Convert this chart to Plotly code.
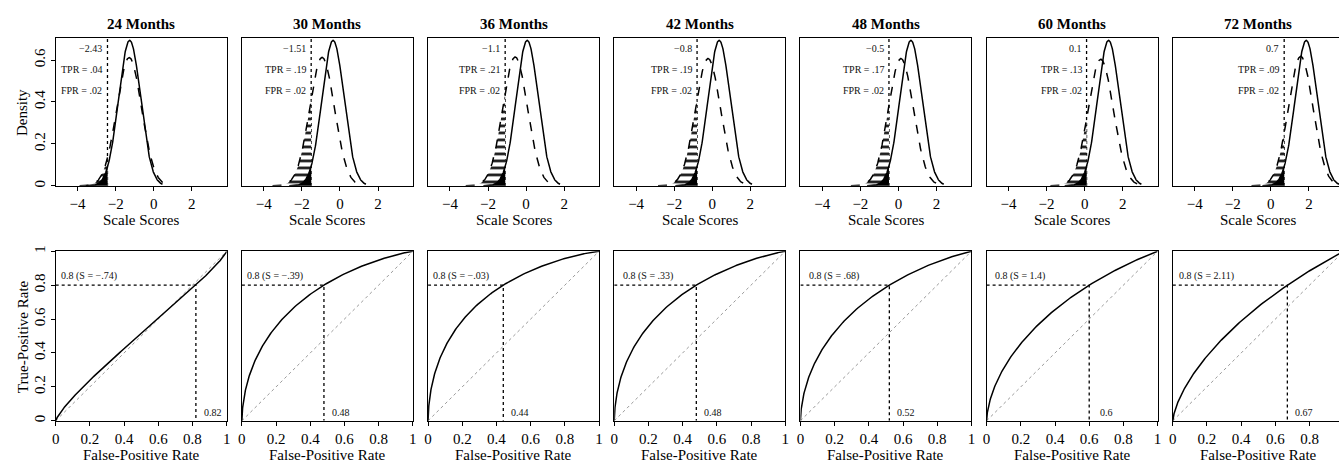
import math
import numpy as np
import plotly.graph_objects as go

# ---------------- data ----------------
months = ["24 Months", "30 Months", "36 Months", "42 Months", "48 Months", "60 Months", "72 Months"]
cutoffs = [-2.43, -1.51, -1.1, -0.8, -0.5, 0.1, 0.7]
cutoff_labels = ["−2.43", "−1.51", "−1.1", "−0.8", "−0.5", "0.1", "0.7"]
tpr_labels = [".04", ".19", ".21", ".19", ".17", ".13", ".09"]
fpr_labels = [".02", ".02", ".02", ".02", ".02", ".02", ".02"]
s80_labels = ["−.74", "−.39", "−.03", ".33", ".68", "1.4", "2.11"]
fpr80 = [0.82, 0.48, 0.44, 0.48, 0.52, 0.6, 0.67]
fpr80_labels = ["0.82", "0.48", "0.44", "0.48", "0.52", "0.6", "0.67"]
# normal distributions (solid / dashed curves)
solid_mean = [-1.266, -0.361, 0.057, 0.359, 0.651, 1.254, 1.857]
solid_sd = [0.575, 0.575, 0.575, 0.575, 0.575, 0.575, 0.575]
dashed_mean = [-1.289, -0.938, -0.576, -0.223, 0.127, 0.844, 1.567]
dashed_sd = [0.652, 0.651, 0.649, 0.657, 0.657, 0.661, 0.646]
density_ticks = [0, 0.2, 0.4, 0.6]
density_ticktext = ["0", "0.2", "0.4", "0.6"]
score_ticks = [-4, -2, 0, 2]
score_ticktext = ["−4", "−2", "0", "2"]
rate_ticks = [0, 0.2, 0.4, 0.6, 0.8, 1]
rate_ticktext = ["0", "0.2", "0.4", "0.6", "0.8", "1"]

# ---------------- helpers ----------------
def npdf(x, m, s):
    return np.exp(-0.5 * ((x - m) / s) ** 2) / (s * math.sqrt(2 * math.pi))

_erf = np.vectorize(math.erf)
def ncdf(x, m, s):
    return 0.5 * (1 + _erf((x - m) / (s * math.sqrt(2))))

W, H = 1343, 468
FONT = "Liberation Serif"
PX0, PW, STEP = 52, 172, 187.3
TOP_T, TOP_B = 33, 183
BOT_T, BOT_B = 249.5, 422
XR_TOP = [-5.15, 3.83]
YR_TOP = [0, 0.703]

fig = go.Figure()
layout = dict(width=W, height=H, margin=dict(l=0, r=0, t=0, b=0),
              paper_bgcolor="white", plot_bgcolor="white", showlegend=False,
              font=dict(family=FONT, size=15, color="black"))
annotations = []

def axis_common():
    return dict(showgrid=False, zeroline=False, showline=True, linecolor="black",
                linewidth=1, ticks="outside", ticklen=4, tickcolor="black",
                tickfont=dict(family=FONT, size=15, color="black"))

for i in range(7):
    left = PX0 + STEP * i
    right = left + PW
    d0 = left / W
    d1 = min(right / W, 1.0)
    frac = (min(right, W) - left) / PW
    last = i == 6

    kt = i + 1
    kb = i + 8
    # --- top axes ---
    xt = axis_common()
    xt.update(domain=[d0, d1], anchor="y%d" % kt, mirror=True,
              range=[XR_TOP[0], XR_TOP[0] + (XR_TOP[1] - XR_TOP[0]) * frac],
              tickvals=score_ticks, ticktext=score_ticktext)
    yt = axis_common()
    yt.update(domain=[1 - TOP_B / H, 1 - TOP_T / H], anchor="x%d" % kt,
              mirror=not last, range=YR_TOP)
    if i == 0:
        yt.update(tickvals=density_ticks, ticktext=density_ticktext, tickangle=-90)
    else:
        yt.update(showticklabels=False, ticks="")
    layout["xaxis%d" % kt if kt > 1 else "xaxis"] = xt
    layout["yaxis%d" % kt if kt > 1 else "yaxis"] = yt

    # --- bottom axes ---
    xb = axis_common()
    xb.update(domain=[d0, d1], anchor="y%d" % kb, mirror=True,
              range=[0, frac], tickvals=rate_ticks, ticktext=rate_ticktext)
    yb = axis_common()
    yb.update(domain=[1 - BOT_B / H, 1 - BOT_T / H], anchor="x%d" % kb,
              mirror=not last, range=[0, 1])
    if i == 0:
        yb.update(tickvals=rate_ticks, ticktext=rate_ticktext, tickangle=-90)
    else:
        yb.update(showticklabels=False, ticks="")
    layout["xaxis%d" % kb] = xb
    layout["yaxis%d" % kb] = yb

    xa_t = "x" if kt == 1 else "x%d" % kt
    ya_t = "y" if kt == 1 else "y%d" % kt
    xa_b, ya_b = "x%d" % kb, "y%d" % kb

    ms, ss = solid_mean[i], solid_sd[i]
    md, sd = dashed_mean[i], dashed_sd[i]
    c = cutoffs[i]

    # cutoff line
    fig.add_trace(go.Scatter(x=[c, c], y=[0, YR_TOP[1]], mode="lines",
                             line=dict(color="black", width=1.3, dash="dot"),
                             xaxis=xa_t, yaxis=ya_t, hoverinfo="skip"))
    # hatched area under dashed curve left of cutoff
    xh = np.linspace(md - 4 * sd, c, 200)
    fig.add_trace(go.Scatter(x=xh, y=npdf(xh, md, sd), mode="lines", line=dict(width=0, color="black"),
                             fill="tozeroy", fillcolor="white",
                             fillpattern=dict(shape="-", fgcolor="black", bgcolor="white",
                                              fgopacity=1, size=7, solidity=0.35),
                             xaxis=xa_t, yaxis=ya_t, hoverinfo="skip"))
    # black area under solid curve left of cutoff
    xs_ = np.linspace(ms - 4 * ss, c, 200)
    fig.add_trace(go.Scatter(x=xs_, y=npdf(xs_, ms, ss), mode="lines", line=dict(width=0, color="black"),
                             fill="tozeroy", fillcolor="black",
                             xaxis=xa_t, yaxis=ya_t, hoverinfo="skip"))
    # curves
    xd = np.linspace(md - 4 * sd, md + 3 * sd, 300)
    fig.add_trace(go.Scatter(x=xd, y=npdf(xd, md, sd), mode="lines",
                             line=dict(color="black", width=1.5, dash="dash"),
                             xaxis=xa_t, yaxis=ya_t, hoverinfo="skip"))
    xsol = np.linspace(ms - 4 * ss, ms + 3 * ss, 300)
    fig.add_trace(go.Scatter(x=xsol, y=npdf(xsol, ms, ss), mode="lines",
                             line=dict(color="black", width=1.5),
                             xaxis=xa_t, yaxis=ya_t, hoverinfo="skip"))

    for txt, yy in [(cutoff_labels[i], 0.656), ("TPR = " + tpr_labels[i], 0.553),
                    ("FPR = " + fpr_labels[i], 0.455)]:
        annotations.append(dict(x=c, y=yy, xref=xa_t, yref=ya_t, text=txt, showarrow=False,
                                xanchor="right", yanchor="middle", xshift=-3,
                                font=dict(family=FONT, size=10, color="#111")))

    # --- ROC ---
    t = np.linspace(-8, 8, 1200)
    fpr = ncdf(t, ms, ss)
    tpr = ncdf(t, md, sd)
    fig.add_trace(go.Scatter(x=[0, 1], y=[0, 1], mode="lines",
                             line=dict(color="#9a9a9a", width=1, dash="dot"),
                             xaxis=xa_b, yaxis=ya_b, hoverinfo="skip"))
    fig.add_trace(go.Scatter(x=[0, fpr80[i], fpr80[i]], y=[0.8, 0.8, 0], mode="lines",
                             line=dict(color="black", width=1.3, dash="dot"),
                             xaxis=xa_b, yaxis=ya_b, hoverinfo="skip"))
    fig.add_trace(go.Scatter(x=fpr, y=tpr, mode="lines",
                             line=dict(color="black", width=1.5),
                             xaxis=xa_b, yaxis=ya_b, hoverinfo="skip"))
    annotations.append(dict(x=0.195, y=0.852, xref=xa_b, yref=ya_b,
                            text="0.8 (S = " + s80_labels[i] + ")", showarrow=False,
                            xanchor="center", yanchor="middle",
                            font=dict(family=FONT, size=10, color="#111")))
    annotations.append(dict(x=fpr80[i] + 0.1, y=0.048, xref=xa_b, yref=ya_b,
                            text=fpr80_labels[i], showarrow=False,
                            xanchor="center", yanchor="middle",
                            font=dict(family=FONT, size=10, color="#111")))

    # titles and axis labels
    cx = (left + right) / 2 / W
    annotations.append(dict(x=cx, y=1 - 18 / H, xref="paper", yref="paper",
                            text="<b>" + months[i] + "</b>", showarrow=False,
                            xanchor="center", yanchor="middle",
                            font=dict(family=FONT, size=15, color="black")))
    annotations.append(dict(x=cx, y=1 - 218 / H, xref="paper", yref="paper",
                            text="Scale Scores", showarrow=False,
                            xanchor="center", yanchor="middle",
                            font=dict(family=FONT, size=15, color="black")))
    annotations.append(dict(x=cx, y=1 - 457 / H, xref="paper", yref="paper",
                            text="False-Positive Rate", showarrow=False,
                            xanchor="center", yanchor="middle",
                            font=dict(family=FONT, size=15, color="black")))

annotations.append(dict(x=18 / W, y=1 - 108 / H, xref="paper", yref="paper", text="Density",
                        showarrow=False, textangle=-90, xanchor="center", yanchor="middle",
                        font=dict(family=FONT, size=15, color="black")))
annotations.append(dict(x=19 / W, y=1 - 336 / H, xref="paper", yref="paper", text="True-Positive Rate",
                        showarrow=False, textangle=-90, xanchor="center", yanchor="middle",
                        font=dict(family=FONT, size=15, color="black")))

layout["annotations"] = annotations
fig.update_layout(**layout)
fig.write_html("out.html", config={"displayModeBar": False},
               post_script="document.body.style.margin='0';document.body.style.overflow='hidden';")
